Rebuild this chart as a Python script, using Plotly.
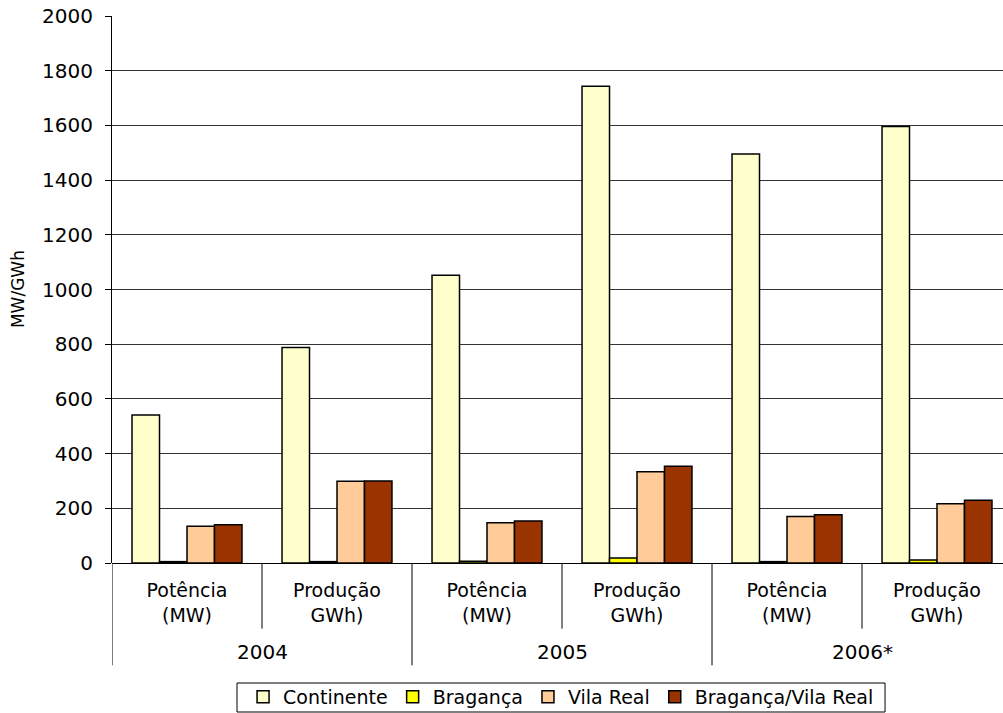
import plotly.graph_objects as go

# Wind power: installed capacity and production by region
years = ["2004", "2005", "2006*"]
measures = ["Potência<br>(MW)", "Produção<br>GWh)"]
series_names = ["Continente", "Bragança", "Vila Real", "Bragança/Vila Real"]
series_colors = ["#FFFFCC", "#FFFF00", "#FFCC99", "#993300"]

continente = [541, 788, 1052, 1743, 1495, 1596]
braganca = [5, 5, 6, 18, 5, 11]
vila_real = [134, 299, 147, 334, 170, 217]
braganca_vila_real = [140, 300, 154, 354, 176, 229]
values = [continente, braganca, vila_real, braganca_vila_real]

xpos = list(range(len(years) * len(measures)))
ticktext = [m for _ in years for m in measures]

FONT = "DejaVu Sans"

fig = go.Figure()
for name, color, vals in zip(series_names, series_colors, values):
    fig.add_trace(go.Bar(
        x=xpos, y=vals, name=name,
        marker=dict(color=color, line=dict(color="#000000", width=1.5)),
    ))

# category dividers below the axis: short between measures, long between years
shapes = []
for i in range(len(xpos) + 1):
    b = i - 0.5
    is_year = (i % len(measures) == 0)
    shapes.append(dict(type="line", xref="x", yref="paper",
                       x0=b, x1=b, y0=0, y1=-0.187 if is_year else -0.12,
                       line=dict(color="#000000", width=1)))

# frame around the legend
shapes.append(dict(type="rect", xref="paper", yref="paper",
                   x0=0.1403, x1=0.8676, y0=-0.2724, y1=-0.2194,
                   line=dict(color="#000000", width=1), fillcolor="rgba(0,0,0,0)"))

annotations = []
for k, yr in enumerate(years):
    cx = k * len(measures) + (len(measures) - 1) / 2
    annotations.append(dict(x=cx, y=-0.163, xref="x", yref="paper",
                            xanchor="center", yanchor="middle",
                            text=yr, showarrow=False,
                            font=dict(family=FONT, size=20, color="#000000")))
annotations.append(dict(x=-0.106, y=0.5, xref="paper", yref="paper",
                        xanchor="center", yanchor="middle",
                        text="MW/GWh", textangle=-90, showarrow=False,
                        font=dict(family=FONT, size=17, color="#000000")))

fig.update_layout(
    width=1003, height=713,
    margin=dict(l=112, r=0, t=16, b=150, autoexpand=False),
    paper_bgcolor="#FFFFFF", plot_bgcolor="#FFFFFF",
    barmode="group", bargap=0.267, bargroupgap=0,
    font=dict(family=FONT, size=20, color="#000000"),
    showlegend=True,
    legend=dict(orientation="h", x=0.504, xanchor="center", y=-0.245, yanchor="middle",
                borderwidth=0, itemwidth=30, bgcolor="rgba(0,0,0,0)",
                font=dict(family=FONT, size=19, color="#000000"),
                traceorder="normal"),
    shapes=shapes,
    annotations=annotations,
)
fig.update_xaxes(
    tickmode="array", tickvals=xpos, ticktext=ticktext,
    range=[-0.5, 5.44], showgrid=False, zeroline=False,
    showline=False, ticks="", ticklabelstandoff=14,
    tickfont=dict(family=FONT, size=19),
)
fig.update_yaxes(
    range=[0, 2000], dtick=200, showgrid=True, gridcolor="#333333", gridwidth=1,
    showline=True, linecolor="#000000", linewidth=1,
    ticks="outside", ticklen=6, tickcolor="#000000", ticklabelstandoff=8,
    zeroline=True, zerolinecolor="#000000", zerolinewidth=1,
    tickfont=dict(family=FONT, size=20),
)

fig.write_html("out.html")
